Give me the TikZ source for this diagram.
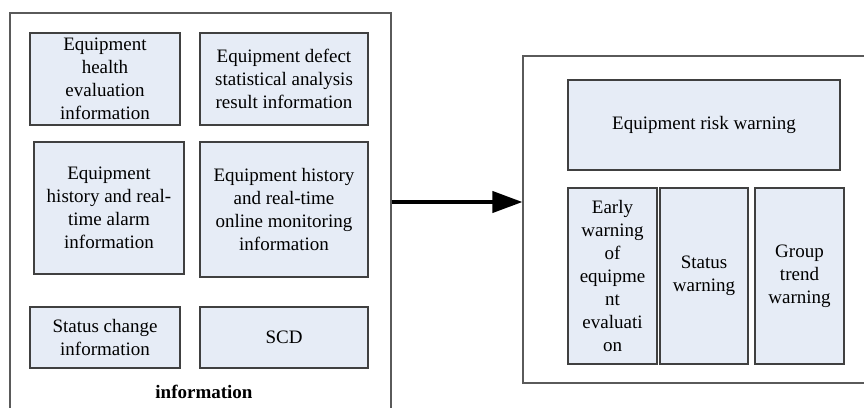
\documentclass[tikz,border=0pt]{standalone}
\usepackage{fontspec}
\setmainfont{Liberation Serif}
\usetikzlibrary{arrows.meta}
\definecolor{boxfill}{HTML}{E6ECF6}
\definecolor{boxline}{HTML}{404040}
\definecolor{outerline}{HTML}{5A5A5A}
\begin{document}
\begin{tikzpicture}[x=1pt,y=1pt,
  every node/.style={font=\fontsize{19}{23}\selectfont},
  ibox/.style={draw=boxline, line width=1.1pt, fill=boxfill, align=center, inner sep=0pt},
  obox/.style={draw=outerline, line width=1.1pt, fill=white, inner sep=0pt},
  bigarrow/.style={line width=4pt, -{Triangle[length=30pt,width=21pt]}}]
\clip (0,0) rectangle (864,-407);
\fill[white] (0,0) rectangle (864,-407);
% outer containers
\node[obox, minimum width=381pt, minimum height=420pt] (lb) at (200.5,-223) {};
\node[obox, minimum width=370pt, minimum height=327pt] (rb) at (708,-219.5) {};
% left inner boxes
\node[ibox, minimum width=150pt, minimum height=92pt] (b1) at (105,-79) {Equipment\\health\\evaluation\\information};
\node[ibox, minimum width=168pt, minimum height=92pt] (b2) at (284,-79) {Equipment defect\\statistical analysis\\result information};
\node[ibox, minimum width=150pt, minimum height=132pt] (b3) at (109,-208) {Equipment\\history and real-\\time alarm\\information};
\node[ibox, minimum width=168pt, minimum height=135pt] (b4) at (284,-209.5) {Equipment history\\and real-time\\online monitoring\\information};
\node[ibox, minimum width=150pt, minimum height=61pt] (b5) at (105,-337.5) {Status change\\information};
\node[ibox, minimum width=168pt, minimum height=61pt] (b6) at (284,-337.5) {SCD};
\node[font=\fontsize{19}{23}\selectfont\bfseries] (lbl) at (204,-392) {information};
% right inner boxes
\node[ibox, minimum width=272pt, minimum height=90pt] (r1) at (704,-125) {Equipment risk warning};
\node[ibox, minimum width=89pt, minimum height=176pt] (r2) at (612.5,-276) {Early\\warning\\of\\equipme\\nt\\evaluati\\on};
\node[ibox, minimum width=88pt, minimum height=176pt] (r3) at (704,-276) {Status\\warning};
\node[ibox, minimum width=89pt, minimum height=176pt] (r4) at (799.5,-276) {Group\\trend\\warning};
% arrow
\coordinate (ay) at (0,-202);
\draw[bigarrow] (lb.east |- ay) -- (rb.west |- ay);
\end{tikzpicture}
\end{document}
